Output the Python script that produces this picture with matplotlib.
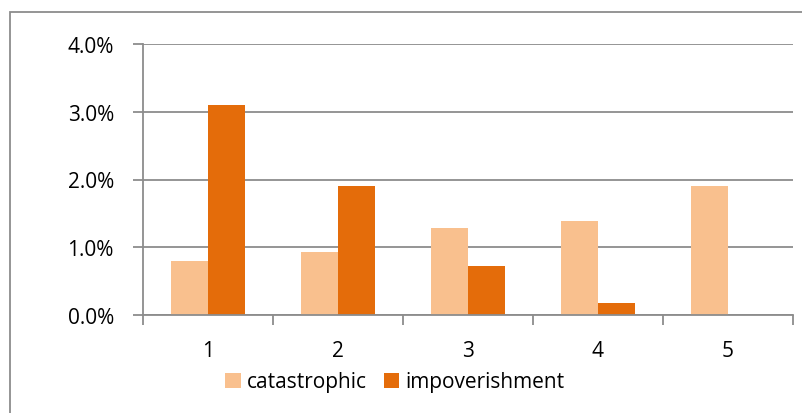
import matplotlib.pyplot as plt
import numpy as np
from matplotlib.patches import Rectangle
from matplotlib.ticker import PercentFormatter

categories = ["1", "2", "3", "4", "5"]
catastrophic = [0.80, 0.93, 1.29, 1.39, 1.90]
impoverishment = [3.10, 1.90, 0.72, 0.17, 0.0]

plt.rcParams['font.family'] = ['Open Sans', 'DejaVu Sans']

fig = plt.figure(figsize=(8.02, 4.14), dpi=100)
ax = fig.add_axes([143/802, 1 - 316/414, 650/802, 271/414])

# chart frame
fig.patches.append(Rectangle((10/802, -0.1), 1.2, 1 - 13/414 + 0.1,
                             transform=fig.transFigure, fill=False,
                             edgecolor='#8c8c8c', linewidth=1.3))

x = np.arange(len(categories))
w = 1 / 3.5
ax.bar(x - w/2, catastrophic, w, color='#f9c08e', label='catastrophic')
ax.bar(x + w/2, impoverishment, w, color='#e46c0a', label='impoverishment')

ax.set_xlim(-0.5, len(categories) - 0.5)
ax.set_ylim(0, 4)
ax.set_yticks([0, 1, 2, 3, 4])
ax.yaxis.set_major_formatter(PercentFormatter(decimals=1))
ax.set_xticks(x)
ax.set_xticklabels(categories)
ax.set_xticks(np.arange(-0.5, len(categories)), minor=True)

grid_c = '#8c8c8c'
ax.yaxis.grid(True, color=grid_c, linewidth=1.3)
ax.set_axisbelow(True)
for s in ['top', 'right']:
    ax.spines[s].set_visible(False)
ax.spines['left'].set_color(grid_c)
ax.spines['bottom'].set_color(grid_c)
ax.spines['left'].set_linewidth(1.3)
ax.spines['bottom'].set_linewidth(1.3)

fs = 15
ax.tick_params(axis='x', which='major', length=0, pad=18, labelsize=fs)
ax.tick_params(axis='x', which='minor', length=7, color=grid_c, width=1.3)
ax.tick_params(axis='y', length=7, color=grid_c, width=1.3, pad=14, labelsize=fs)

fig.legend(loc='center', bbox_to_anchor=(395/802, 1 - 383/414), ncol=2,
           frameon=False, fontsize=fs, handlelength=0.75, handleheight=0.75,
           handletextpad=0.3, columnspacing=0.8)

fig.savefig('out.png', dpi=100)
